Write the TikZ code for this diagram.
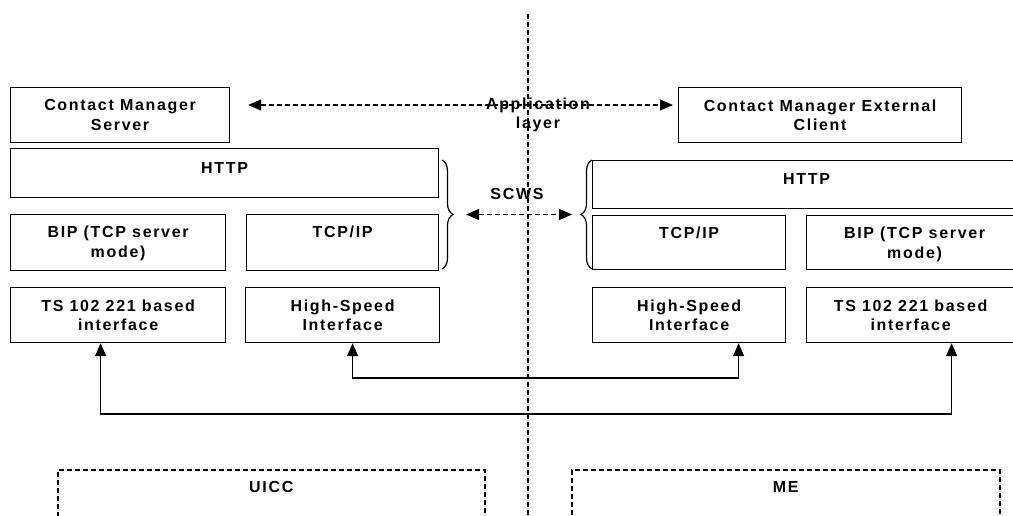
\documentclass[tikz,border=0pt]{standalone}
\usepackage{fontspec}
\setmainfont[LetterSpace=10.5,BoldFont={Liberation Sans Bold}]{Liberation Sans}
\usetikzlibrary{arrows.meta,decorations.pathreplacing,calc}
\begin{document}
\begin{tikzpicture}[x=1pt,y=-1pt,
  box/.style={draw,line width=1.2pt,inner sep=0pt,anchor=north west},
  lbl/.style={font=\fontsize{16}{19.5}\selectfont\bfseries,align=center,inner sep=0pt},
  arr/.style={line width=1.2pt,-{Triangle[length=13pt,width=11pt]}},
  darr/.style={line width=1.3pt,dash pattern=on 5pt off 3pt,{Triangle[length=13pt,width=11pt]}-{Triangle[length=13pt,width=11pt]}},
  dline/.style={line width=1.5pt,dash pattern=on 5pt off 3pt},
  brc/.style={line width=1.2pt,decorate,decoration={brace,amplitude=11pt}}]
\clip (0,0) rectangle (1013,515);
% UICC side
\node[box,minimum width=219pt,minimum height=55pt] (cms) at (10,87) {};
\node[lbl] at (cms.center) {Contact Manager\\Server};
\node[box,minimum width=428pt,minimum height=49pt] (httpl) at (10,148) {};
\node[lbl,anchor=north] at ([yshift=-14pt]httpl.north) {HTTP};
\node[box,minimum width=215pt,minimum height=56pt] (bipl) at (10,214) {};
\node[lbl,anchor=north] at ([yshift=-12pt]bipl.north) {BIP (TCP server\\mode)};
\node[box,minimum width=192pt,minimum height=56pt] (tcpl) at (246,214) {};
\node[lbl,anchor=north] at ([yshift=-12pt]tcpl.north) {TCP/IP};
\node[box,minimum width=215pt,minimum height=55pt] (tsl) at (10,287) {};
\node[lbl] at (tsl.center) {TS 102 221 based\\interface};
\node[box,minimum width=194pt,minimum height=55pt] (hsl) at (245,287) {};
\node[lbl] at (hsl.center) {High-Speed\\Interface};
% ME side
\node[box,minimum width=283pt,minimum height=55pt] (cmc) at (678,87) {};
\node[lbl] at (cmc.center) {Contact Manager External\\Client};
\node[box,minimum width=428pt,minimum height=48pt] (httpr) at (592,160) {};
\node[lbl,anchor=north] at ([yshift=-13pt]httpr.north) {HTTP};
\node[box,minimum width=193pt,minimum height=54pt] (tcpr) at (592,215) {};
\node[lbl,anchor=north] at ([yshift=-12pt]tcpr.north) {TCP/IP};
\node[box,minimum width=216pt,minimum height=54pt] (bipr) at (806,215) {};
\node[lbl,anchor=north] at ([yshift=-12pt]bipr.north) {BIP (TCP server\\mode)};
\node[box,minimum width=193pt,minimum height=55pt] (hsr) at (592,287) {};
\node[lbl] at (hsr.center) {High-Speed\\Interface};
\node[box,minimum width=216pt,minimum height=55pt] (tsr) at (806,287) {};
\node[lbl] at ([xshift=-4pt]tsr.center) {TS 102 221 based\\interface};
% dashed containers
\node[box,dline,minimum width=427pt,minimum height=80pt] (uicc) at (57,469) {};
\node[lbl,anchor=north] at ([yshift=-12pt]uicc.north) {UICC};
\node[box,dline,minimum width=428pt,minimum height=80pt] (me) at (571,469) {};
\node[lbl,anchor=north] at ([yshift=-12pt]me.north) {ME};
% divider
\coordinate (dtop) at (528,14);
\coordinate (dbot) at (528,520);
\draw[dline,line width=1.3pt] (dtop) -- (dbot);
% braces
\draw[brc] (442,160) -- (442,269) coordinate[midway] (bl);
\draw[brc] (592,269) -- (592,160) coordinate[midway] (br);
\coordinate (blt) at ([xshift=24pt]bl);
\coordinate (brt) at ([xshift=-20pt]br);
% application layer
\draw[darr,shorten <=18pt,shorten >=5pt] ([yshift=-18pt]cms.north east) -- ([yshift=-18pt]cmc.north west);
\node[lbl] (app) at (538,115) {Application\\layer};
% SCWS
\draw[darr] (blt) -- (brt);
\node[lbl] (scws) at (517,194) {SCWS};
% interface links
\draw[arr] (352,378) -| ([xshift=10pt]hsl.south);
\draw[arr] (352,378) -| ([xshift=49.5pt]hsr.south);
\draw[arr] (100,414) -| ([xshift=-17.5pt]tsl.south);
\draw[arr] (100,414) -| ([xshift=37pt]tsr.south);
\end{tikzpicture}
\end{document}
